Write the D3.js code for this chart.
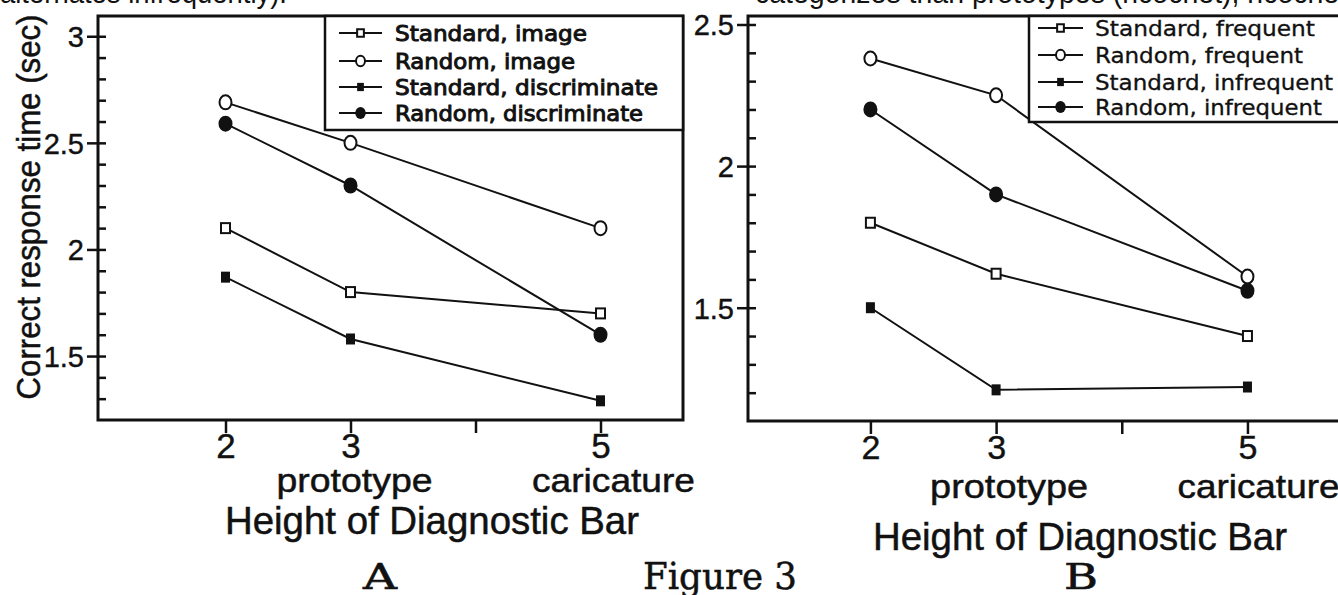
<!DOCTYPE html>
<html>
<head>
<meta charset="utf-8">
<script src="https://cdn.jsdelivr.net/npm/d3@7"></script>
<style>
  body { margin: 0; background: #fff; }
  svg { display: block; }
</style>
</head>
<body>
<div id="chart"></div>
<script>
// x levels = height of the diagnostic bar
const barHeights = [2, 3, 5];
const xTickValues = [2, 3, 4, 5];
const xTickLabels = ["2", "3", "", "5"];
const xSubLabels = ["", "prototype", "", "caricature"];
const xTitle = "Height of Diagnostic Bar";
const yTitle = "Correct response time (sec)";

// panel A
const seriesNamesA = ["Standard, image", "Random, image", "Standard, discriminate", "Random, discriminate"];
const standardImageA = [2.10, 1.80, 1.70];
const randomImageA = [2.69, 2.50, 2.10];
const standardDiscrimA = [1.87, 1.58, 1.29];
const randomDiscrimA = [2.59, 2.30, 1.60];
const yTicksA = [1.5, 2, 2.5, 3];

// panel B
const seriesNamesB = ["Standard, frequent", "Random, frequent", "Standard, infrequent", "Random, infrequent"];
const standardFreqB = [1.80, 1.62, 1.40];
const randomFreqB = [2.38, 2.25, 1.61];
const standardInfreqB = [1.50, 1.21, 1.22];
const randomInfreqB = [2.20, 1.90, 1.56];
const yTicksB = [1.5, 2, 2.5];

// marker kind per series (same order in both panels)
const markerKinds = ["squareOpen", "circleOpen", "squareFilled", "circleFilled"];

const W = 1338, H = 595;
const sans = "'Liberation Sans', Arial, Helvetica, sans-serif";
const serif = "'DejaVu Serif', 'Liberation Serif', serif";
const legendFont = "'DejaVu Sans Condensed', 'DejaVu Sans', sans-serif";

const svg = d3.select("#chart").append("svg")
  .attr("width", W).attr("height", H)
  .style("background", "#fff");

function addText(parent, str, opts) {
  const t = parent.append("text")
    .attr("x", opts.x).attr("y", opts.y)
    .attr("text-anchor", opts.anchor || "middle")
    .attr("font-family", opts.font || sans)
    .attr("font-size", opts.size)
    .attr("font-weight", opts.weight || "normal")
    .attr("fill", "#111")
    .text(str);
  if (opts.heavy) t.attr("stroke", "#111").attr("stroke-width", opts.heavy);
  if (opts.len) t.attr("textLength", opts.len).attr("lengthAdjust", "spacingAndGlyphs");
  if (opts.rotate) t.attr("transform", "rotate(" + opts.rotate + "," + opts.x + "," + opts.y + ")");
  return t;
}

function drawMarker(g, kind, cx, cy, s) {
  // s = scale factor for legend markers
  if (kind === "squareOpen") {
    const w = 9 * s, h = 10 * s;
    g.append("rect").attr("x", cx - w / 2).attr("y", cy - h / 2).attr("width", w).attr("height", h)
      .attr("fill", "#fff").attr("stroke", "#111").attr("stroke-width", 2);
  } else if (kind === "circleOpen") {
    g.append("ellipse").attr("cx", cx).attr("cy", cy).attr("rx", 6 * s).attr("ry", 7 * s)
      .attr("fill", "#fff").attr("stroke", "#111").attr("stroke-width", 2);
  } else if (kind === "squareFilled") {
    const w = 9 * s, h = 11 * s;
    g.append("rect").attr("x", cx - w / 2).attr("y", cy - h / 2).attr("width", w).attr("height", h)
      .attr("fill", "#111");
  } else {
    g.append("ellipse").attr("cx", cx).attr("cy", cy).attr("rx", 7 * s).attr("ry", 8 * s)
      .attr("fill", "#111");
  }
}

function drawPanel(p) {
  const g = svg.append("g");

  const x = d3.scaleLinear().domain(p.xDomain).range([p.left, p.right]);
  const y = d3.scaleLinear().domain(p.yDomain).range([p.bottom, p.top]);

  // frame
  g.append("rect")
    .attr("x", p.left).attr("y", p.top)
    .attr("width", p.right - p.left).attr("height", p.bottom - p.top)
    .attr("fill", "none").attr("stroke", "#111").attr("stroke-width", 3);

  // minor ticks every 0.1, inside the frame
  const minor = d3.range(Math.ceil(p.yDomain[0] * 10 + 0.01), Math.floor(p.yDomain[1] * 10) + 1).map(d => d / 10);
  g.append("g")
    .attr("transform", "translate(" + p.left + ",0)")
    .call(d3.axisLeft(y).tickValues(minor).tickSize(-8).tickFormat(""))
    .call(a => a.select(".domain").remove())
    .call(a => a.selectAll("line").attr("stroke", "#111").attr("stroke-width", 2.5));

  // major ticks cross the axis, with labels
  g.append("g")
    .attr("transform", "translate(" + p.left + ",0)")
    .call(d3.axisLeft(y).tickValues(p.yTicks).tickSize(11).tickPadding(3).tickFormat(d3.format("")))
    .call(a => a.select(".domain").remove())
    .call(a => a.selectAll("line").attr("stroke", "#111").attr("stroke-width", 2.5))
    .call(a => a.selectAll("text").attr("font-family", sans).attr("font-size", 29).attr("fill", "#111")
      .attr("stroke", "#111").attr("stroke-width", 0.4).attr("dy", "0.36em"));

  // x axis ticks hang below the frame
  g.append("g")
    .attr("transform", "translate(0," + p.bottom + ")")
    .call(d3.axisBottom(x).tickValues(xTickValues).tickSize(13).tickPadding(p.xTickPad)
      .tickFormat((d, i) => xTickLabels[i]))
    .call(a => a.select(".domain").remove())
    .call(a => a.selectAll("line").attr("stroke", "#111").attr("stroke-width", 2.5))
    .call(a => a.selectAll("text").attr("font-family", sans).attr("font-size", p.xTickSize).attr("fill", "#111")
      .attr("stroke", "#111").attr("stroke-width", 0.4));

  // sub labels under the ticks
  xTickValues.forEach((v, i) => {
    if (!xSubLabels[i]) return;
    addText(g, xSubLabels[i], { x: x(v) + p.subShift[i], y: p.subY, size: 34, len: p.subLen[i], heavy: 0.5 });
  });

  // axis title and panel letter
  addText(g, xTitle, { x: p.titleX, y: p.titleY, size: 38, len: p.titleLen, heavy: 0.5 });
  addText(g, p.letter, { x: p.letterX, y: 589, size: 36, font: serif, len: 34, heavy: 0.6 });

  // series lines and markers
  const line = d3.line().x((d, i) => x(barHeights[i])).y(d => y(d));
  p.series.forEach((vals, k) => {
    g.append("path").datum(vals).attr("d", line)
      .attr("fill", "none").attr("stroke", "#111").attr("stroke-width", 2);
  });
  p.series.forEach((vals, k) => {
    vals.forEach((v, i) => drawMarker(g, markerKinds[k], x(barHeights[i]), y(v), 1));
  });

  // legend box
  const lg = p.legend;
  g.append("rect")
    .attr("x", lg.x).attr("y", p.top)
    .attr("width", lg.w).attr("height", lg.h)
    .attr("fill", "#fff").attr("stroke", "#111").attr("stroke-width", 2.5);
  p.names.forEach((name, k) => {
    const cy = lg.rows[k];
    g.append("line").attr("x1", lg.lineX[0]).attr("x2", lg.lineX[1])
      .attr("y1", cy).attr("y2", cy).attr("stroke", "#111").attr("stroke-width", 2);
    drawMarker(g, markerKinds[k], (lg.lineX[0] + lg.lineX[1]) / 2, cy, 0.75);
    addText(g, name, { x: lg.textX, y: cy + 8, size: lg.size, anchor: "start",
      font: legendFont, heavy: lg.heavy, len: lg.lens[k] });
  });
}

// clipped caption lines from the page above
addText(svg, "alternates infrequently).", { x: 0, y: 3, size: 30, anchor: "start", len: 287 });
addText(svg, "categorizes than prototypes (ricochet), ricochet,", { x: 755, y: 3, size: 30, anchor: "start", len: 600 });

// y title, shared left side of panel A
addText(svg, yTitle, { x: 40, y: 207, size: 33, rotate: -90, len: 385, heavy: 0.5 });

drawPanel({
  letter: "A", letterX: 380,
  left: 98, right: 683, top: 16, bottom: 420,
  xDomain: [0.98, 5.66], yDomain: [1.2, 3.095],
  yTicks: yTicksA,
  xTickSize: 35, xTickPad: 0,
  subY: 492, subShift: [0, 4, 0, 13], subLen: [0, 156, 0, 163],
  titleX: 432, titleY: 534, titleLen: 414,
  series: [standardImageA, randomImageA, standardDiscrimA, randomDiscrimA],
  names: seriesNamesA,
  legend: { x: 325, w: 358, h: 114, rows: [33, 61, 87, 113], lineX: [339, 382],
    textX: 395, size: 22, heavy: 0.9, lens: [192, 180, 263, 248] }
});

drawPanel({
  letter: "B", letterX: 1081,
  left: 748, right: 1348, top: 16, bottom: 421,
  xDomain: [1.026, 5.8], yDomain: [1.1, 2.53],
  yTicks: yTicksB,
  xTickSize: 34, xTickPad: 1,
  subY: 498, subShift: [0, 13, 0, 11], subLen: [0, 158, 0, 162],
  titleX: 1080, titleY: 550, titleLen: 414,
  series: [standardFreqB, randomFreqB, standardInfreqB, randomInfreqB],
  names: seriesNamesB,
  legend: { x: 1029, w: 320, h: 106, rows: [28, 55, 82, 107], lineX: [1038, 1083],
    textX: 1095, size: 22, heavy: 0.3, lens: [220, 208, 238, 227] }
});

addText(svg, "Figure 3", { x: 720, y: 589, size: 37, font: serif, len: 154, heavy: 0.5 });
</script>
</body>
</html>
